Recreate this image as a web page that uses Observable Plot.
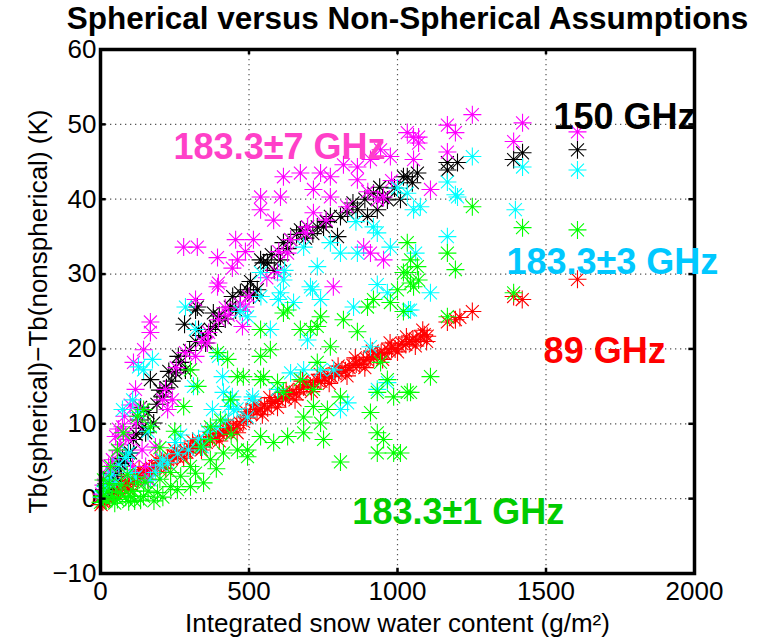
<!DOCTYPE html>
<html><head><meta charset="utf-8">
<script src="https://cdn.jsdelivr.net/npm/d3@7"></script>
<script src="https://cdn.jsdelivr.net/npm/@observablehq/plot@0.6"></script>
<style>body{margin:0;background:#fff}</style>
</head><body><div id="chart"></div>
<script>
const title = "Spherical versus Non-Spherical Assumptions";
const xLabel = "Integrated snow water content (g/m²)";
const yLabel = "Tb(spherical)−Tb(nonspherical) (K)";
const xTicks = [0, 500, 1000, 1500, 2000];
const yTicks = [-10, 0, 10, 20, 30, 40, 50, 60];

const series = ["89 GHz", "150 GHz", "183.3±1 GHz", "183.3±3 GHz", "183.3±7 GHz"];
const markerColors = ["#ff0000", "#000000", "#00ff00", "#00ffff", "#ff00ff"];
const labelColors = ["#ff0000", "#000000", "#00cc00", "#00c8ff", "#ff40c8"];
const labelX = [1492, 1525, 848, 1367, 246];
const labelY = [19.6, 50.9, -1.9, 31.6, 46.9];

const ghz89 = [[2,-0.8],[8,-0.4],[15,-0.2],[22,0.2],[30,0.1],[36,0.6],[45,0.9],[52,0.7],[60,1.2],[68,1.5],[75,1.3],[84,1.9],[92,2.1],[100,2.4],[110,2.3],[118,2.8],[128,3.0],[136,2.9],[146,3.4],[155,3.5],[165,3.8],[172,4.1],[184,4.3],[193,4.2],[205,4.7],[214,4.8],[226,5.2],[238,5.3],[247,5.7],[258,5.6],[270,6.0],[282,6.3],[291,6.2],[303,6.7],[312,6.9],[325,7.1],[334,7.4],[347,7.6],[356,7.5],[368,8.0],[377,8.3],[390,8.4],[402,8.7],[413,8.9],[425,9.1],[436,9.4],[448,9.3],[459,9.8],[470,10.1],[482,10.3],[493,10.8],[505,11.3],[515,11.9],[527,11.6],[540,12.0],[552,12.4],[563,12.1],[575,12.7],[588,13.0],[600,13.2],[612,13.6],[623,13.4],[636,13.9],[648,14.2],[660,14.0],[671,14.6],[684,14.9],[695,15.2],[707,15.0],[719,15.5],[730,15.8],[742,15.7],[755,16.1],[766,16.4],[778,16.3],[790,16.7],[802,16.9],[813,17.2],[825,17.1],[837,17.5],[850,17.8],[861,18.0],[873,17.9],[885,18.4],[897,18.6],[908,18.9],[920,18.8],[932,19.2],[945,19.5],[957,19.4],[968,19.9],[980,20.1],[992,20.0],[1004,20.5],[1015,20.7],[1028,20.6],[1040,21.0],[1052,21.3],[1065,21.2],[1078,21.6],[1090,21.9],[1100,21.7],[1168,23.6],[1195,23.9],[1210,24.2],[1252,25.0],[1391,27.0],[1420,26.6],[1606,29.3],
  [40,1.6],[70,2.4],[95,1.2],[130,3.9],[160,2.6],[190,5.1],[220,4.0],[250,6.5],[280,5.4],[310,7.7],[340,6.5],[372,8.9],[400,7.7],[430,10.0],[460,8.8],[490,11.6],[520,12.6],[545,11.2],[570,13.5],[596,12.2],[625,14.4],[655,13.2],[680,15.7],[710,14.3],[740,16.6],[770,15.4],[800,17.7],[830,16.4],[858,18.8],[890,17.5],[915,19.7],[950,18.6],[975,20.8],[1000,19.6],[1030,21.6],[1060,20.4],[1085,22.5],[1098,21.0]];

const ghz150 = [[5,0.3],[12,1.2],[20,0.8],[28,2.0],[35,2.6],[42,3.3],[50,3.0],[58,4.1],[66,4.7],[74,5.4],[82,5.0],[94,6.1],[101,6.1],[111,7.9],[120,8.6],[128,10.5],[140,9.4],[152,8.8],[160,11.5],[168,15.9],[179,10.1],[190,12.6],[209,13.6],[222,14.8],[240,15.7],[253,16.8],[270,18.2],[283,23.3],[286,17.2],[300,19.8],[320,21.0],[320,25.2],[326,25.6],[340,21.8],[354,20.8],[370,22.6],[387,23.0],[400,24.4],[420,24.0],[437,25.6],[455,25.2],[471,27.5],[495,27.9],[515,27.2],[528,27.9],[539,31.9],[549,31.5],[562,31.5],[585,30.5],[606,31.9],[616,34.2],[630,33.4],[640,34.6],[660,35.3],[673,35.9],[697,36.3],[715,35.4],[730,36.3],[751,36.3],[774,37.7],[798,35.0],[808,37.7],[832,38.2],[850,39.5],[865,38.6],[899,37.7],[919,40.8],[932,38.6],[950,40.2],[966,39.9],[990,41.5],[1010,40.0],[1020,43.0],[1033,43.0],[1050,42.2],[1067,43.5],[1168,44.9],[1168,43.9],[1202,44.9],[1391,45.3],[1421,46.2],[1606,46.6],
  [135,12.2],[200,14.5],[230,17.0],[262,19.0],[330,22.6],[380,24.8],[445,27.0],[505,29.0],[575,32.6],[690,34.8],[760,37.0],[890,40.0],[940,41.6]];

const ghz183p1 = [[0,-0.5],[5,0.3],[10,0.3],[10,2.5],[18,-0.3],[25,1.0],[34,4.3],[40,0.2],[48,-0.6],[57,-0.1],[57,6.5],[65,0.8],[77,8.8],[85,0.2],[95,-0.4],[101,0.3],[110,1.0],[125,2.1],[125,11.0],[135,-0.2],[145,0.3],[145,11.9],[160,1.0],[168,9.6],[180,-0.3],[192,0.8],[210,0.2],[236,3.5],[236,1.6],[259,1.2],[280,12.3],[303,1.6],[303,4.3],[303,17.2],[327,15.0],[337,6.9],[347,2.1],[370,5.2],[370,7.9],[370,9.6],[394,19.5],[404,10.5],[414,6.1],[428,18.6],[438,13.2],[461,6.5],[461,16.3],[481,16.3],[495,6.5],[495,5.6],[539,8.3],[539,15.9],[539,19.0],[539,22.6],[549,16.3],[572,19.9],[583,7.5],[596,15.5],[616,14.2],[616,24.8],[630,8.3],[630,25.2],[673,15.9],[673,22.6],[684,10.9],[684,8.8],[707,22.6],[717,12.3],[717,14.6],[730,18.2],[730,23.0],[741,10.1],[741,24.3],[751,7.9],[764,11.9],[774,20.3],[808,4.9],[808,13.6],[818,23.9],[865,22.3],[899,25.6],[909,11.5],[919,26.6],[932,14.2],[932,8.8],[932,6.1],[943,18.2],[953,7.9],[966,15.9],[976,26.2],[987,13.6],[987,6.1],[1000,27.9],[1010,6.1],[1020,25.0],[1020,30.2],[1033,14.2],[1033,34.2],[1033,30.2],[1044,14.2],[1044,31.9],[1044,28.8],[1054,28.3],[1067,31.0],[1071,29.2],[1111,16.3],[1168,32.8],[1168,24.3],[1195,30.6],[1252,39.0],[1391,27.5],[1421,36.2],[1606,35.9],
  [30,2.0],[70,1.8],[90,3.2],[115,-0.3],[150,2.2],[200,2.6],[270,3.0],[320,3.4],[390,4.0],[440,8.6],[250,9.0],[200,6.8]];

const ghz183p3 = [[3,0.2],[9,1.0],[17,1.6],[25,2.6],[38,3.2],[51,2.1],[62,4.5],[74,11.9],[85,5.5],[94,6.1],[101,3.5],[108,13.2],[118,2.9],[128,17.6],[128,11.5],[145,17.2],[160,9.0],[168,2.5],[175,18.6],[185,3.5],[200,4.5],[209,5.2],[226,4.8],[253,7.5],[260,6.0],[270,8.5],[286,25.6],[296,6.5],[313,15.0],[320,22.6],[330,8.0],[343,6.9],[360,9.0],[377,11.9],[390,9.5],[397,19.0],[411,16.3],[414,14.2],[420,10.5],[431,12.3],[444,13.6],[448,11.9],[460,12.0],[470,25.0],[495,10.9],[495,24.3],[512,13.2],[512,13.6],[539,30.2],[540,27.0],[572,22.6],[596,14.6],[599,26.6],[606,27.5],[616,29.2],[620,30.5],[640,16.8],[650,26.2],[684,17.2],[684,33.6],[697,21.2],[707,28.3],[714,27.9],[730,31.0],[741,26.6],[741,17.2],[774,34.2],[785,17.2],[808,11.9],[808,32.8],[832,12.8],[852,25.6],[860,37.0],[865,32.8],[909,20.3],[919,36.3],[932,35.5],[932,28.6],[932,14.6],[966,27.5],[966,15.5],[976,33.6],[1000,41.5],[1033,40.8],[1037,25.2],[1044,25.2],[1054,38.6],[1061,32.8],[1077,39.0],[1111,27.5],[1168,42.3],[1168,35.0],[1195,40.6],[1202,40.3],[1252,45.7],[1397,38.6],[1421,44.3],[1606,43.9]];

const ghz183p7 = [[4,0.6],[10,1.8],[18,2.4],[27,4.3],[33,3.6],[40,5.2],[51,8.3],[58,6.4],[60,9.3],[66,7.2],[74,9.6],[80,11.0],[85,8.5],[94,7.9],[100,12.5],[108,4.3],[111,18.2],[118,14.6],[120,10.0],[130,12.0],[140,6.5],[145,19.9],[152,4.3],[162,2.5],[168,22.2],[168,23.6],[185,6.9],[209,13.2],[219,14.6],[226,11.9],[242,13.2],[255,17.5],[280,33.6],[286,19.5],[320,19.0],[326,33.6],[320,26.6],[340,21.0],[360,20.8],[364,22.2],[394,32.2],[394,28.3],[397,23.9],[397,28.8],[420,25.5],[430,24.5],[444,30.8],[455,34.6],[461,31.9],[470,26.0],[478,23.0],[488,25.6],[488,33.0],[500,27.0],[515,34.6],[539,38.6],[539,40.3],[560,29.5],[583,37.2],[596,30.2],[600,33.0],[606,40.3],[616,43.0],[630,32.8],[640,34.6],[673,43.5],[690,35.5],[697,36.3],[717,41.3],[717,38.2],[741,43.5],[760,37.2],[774,43.0],[774,40.3],[784,28.3],[818,44.6],[830,39.0],[865,44.3],[865,42.6],[886,33.6],[900,41.0],[909,45.3],[909,32.8],[933,39.9],[943,46.6],[953,40.3],[953,31.9],[976,45.7],[980,42.5],[1033,48.9],[1054,48.3],[1054,45.3],[1071,48.3],[1071,47.5],[1111,41.3],[1168,49.9],[1168,46.3],[1195,48.9],[1252,51.3],[1391,47.7],[1421,50.2],[1606,49.0]];

const seriesData = [ghz89, ghz150, ghz183p1, ghz183p3, ghz183p7];
const drawOrder = [0, 1, 4, 3, 2];

const asterisk = {
  draw(context, size) {
    const r = Math.sqrt(size / Math.PI);
    const d = r * 0.72;
    context.moveTo(-r, 0); context.lineTo(r, 0);
    context.moveTo(0, -r); context.lineTo(0, r);
    context.moveTo(-d, -d); context.lineTo(d, d);
    context.moveTo(-d, d); context.lineTo(d, -d);
  }
};

const dotMarks = drawOrder.map(i => Plot.dot(seriesData[i], {
  x: d => d[0], y: d => d[1], symbol: asterisk, r: 9,
  fill: "none", stroke: markerColors[i], strokeWidth: 1.1
}));

const labels = series.map((s, i) => ({s, x: labelX[i], y: labelY[i], c: labelColors[i]}));
const font = "'Liberation Sans', Arial, Helvetica, sans-serif";

const chart = Plot.plot({
  width: 774, height: 641,
  marginLeft: 100, marginRight: 80, marginTop: 49, marginBottom: 68,
  style: {fontFamily: font, fontSize: "26px", color: "black", background: "white"},
  x: {domain: [0, 2000], ticks: xTicks, tickFormat: d => String(d), tickSize: 0, tickPadding: 8, label: null},
  y: {domain: [-10, 60], ticks: yTicks, tickSize: 0, tickPadding: 4, label: null},
  marks: [
    Plot.ruleX(xTicks.slice(1, -1), {stroke: "#555", strokeDasharray: "1.3,3.7", strokeWidth: 1.2}),
    Plot.ruleY(yTicks.slice(1, -1), {stroke: "#555", strokeDasharray: "1.3,3.7", strokeWidth: 1.2}),
    ...dotMarks,
    Plot.ruleX(xTicks, {y1: -10, y2: -9.3, stroke: "black", strokeWidth: 2.5}),
    Plot.ruleX(xTicks, {y1: 59.3, y2: 60, stroke: "black", strokeWidth: 2.5}),
    Plot.ruleY(yTicks, {x1: 0, x2: 19, stroke: "black", strokeWidth: 2.5}),
    Plot.ruleY(yTicks, {x1: 1981, x2: 2000, stroke: "black", strokeWidth: 2.5}),
    Plot.frame({stroke: "black", strokeWidth: 3.5}),
    Plot.text(labels, {x: "x", y: "y", text: "s", fill: "c", textAnchor: "start", lineAnchor: "middle", fontSize: 36, fontWeight: "bold"}),
    Plot.text([title], {frameAnchor: "top", text: d => d, dy: -31, dx: 10, fontSize: 31.5, fontWeight: "bold", lineAnchor: "middle"}),
    Plot.text([xLabel], {frameAnchor: "bottom", text: d => d, dy: 50, fontSize: 26, lineAnchor: "middle"}),
    Plot.text([yLabel], {frameAnchor: "left", text: d => d, dx: -62, rotate: -90, fontSize: 26, textAnchor: "middle", lineAnchor: "middle"})
  ]
});
document.getElementById("chart").appendChild(chart);
</script></body></html>
